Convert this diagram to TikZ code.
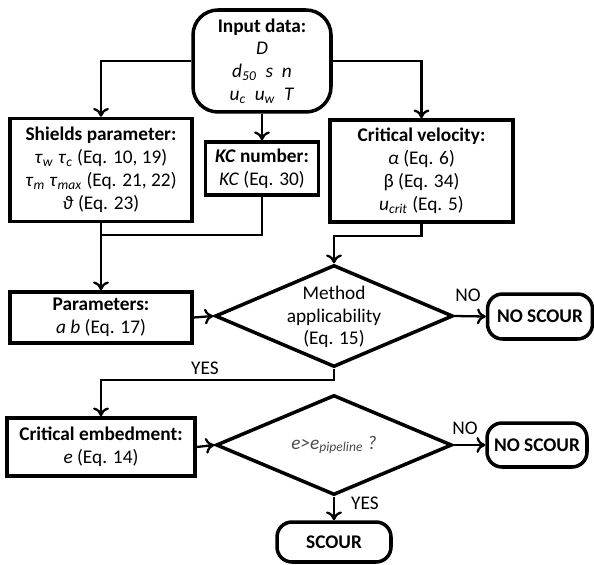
\documentclass[tikz,border=0pt]{standalone}
\usepackage{fontspec}
\setmainfont{Carlito}
\usepackage{tikz}
\usetikzlibrary{shapes.geometric, arrows.meta}

\newcommand{\figfont}{\fontsize{11}{13}\selectfont}
\newcommand{\vsub}[2]{\textit{#1}\textsubscript{\textit{#2}}}

\begin{document}
\begin{tikzpicture}[x=0.02cm, y=-0.02cm, font=\figfont,
    box/.style={draw, line width=2pt, align=center, inner sep=0pt},
    term/.style={draw, line width=2pt, rounded corners=0.3cm, align=center, inner sep=0pt},
    decision/.style={draw, diamond, line width=2pt, inner sep=0pt},
    conn/.style={line width=1.3pt, -{To[length=5pt, width=9pt]}},
    lbl/.style={inner sep=0pt}]
    \useasboundingbox (0, 0) rectangle (594, 564);

    \node [box, rounded corners=0.5cm, minimum width=2.76cm, minimum height=2.04cm] (input) at (262, 61)
        {\textbf{Input data:}\\ \textit{D}\\ \vsub{d}{50}\ \ \textit{s}\ \ \textit{n}\\ \vsub{u}{c}\ \ \vsub{u}{w}\ \ \textit{T}};
    \node [box, minimum width=3.64cm, minimum height=2.06cm] (shields) at (101, 170)
        {\textbf{Shields parameter:}\\ \vsub{τ}{w} \vsub{τ}{c} (Eq. 10, 19)\\ \vsub{τ}{m} \vsub{τ}{max} (Eq. 21, 22)\\ \textit{ϑ} (Eq. 23)};
    \node [box, minimum width=2.26cm, minimum height=1.06cm] (kc) at (262, 168.5)
        {\textbf{\textit{KC} number:}\\ \textit{KC} (Eq. 30)};
    \node [box, minimum width=3.66cm, minimum height=2.04cm] (crit) at (421.5, 171)
        {\textbf{Critical velocity:}\\ \textit{α} (Eq. 6)\\ β (Eq. 34)\\ \vsub{u}{crit} (Eq. 5)};
    \node [box, minimum width=3.64cm, minimum height=1.02cm] (param) at (101, 317.5)
        {\textbf{Parameters:}\\ \textit{a b} (Eq. 17)};
    \node [decision, minimum width=4.76cm, minimum height=2.04cm] (app) at (334, 316) {};
    \node [lbl, align=center] (apptxt) at (334, 317) {Method\\ applicability\\ (Eq. 15)};
    \node [term, minimum width=2.1cm, minimum height=0.9cm] (noscourA) at (540, 316.5) {\textbf{NO SCOUR}};
    \node [box, minimum width=3.76cm, minimum height=1.16cm] (embed) at (101, 447)
        {\textbf{Critical embedment:}\\ \textit{e} (Eq. 14)};
    \node [decision, minimum width=4.72cm, minimum height=2.0cm] (check) at (334, 445) {};
    \node [lbl, text=black!70] (checktxt) at (334, 445) {\textit{e>}\vsub{e}{pipeline}\textit{ ?}};
    \node [term, minimum width=2.0cm, minimum height=0.88cm] (noscourB) at (537, 445) {\textbf{NO SCOUR}};
    \node [term, minimum width=2.28cm, minimum height=0.8cm] (scour) at (334, 542) {\textbf{SCOUR}};

    \node [lbl] (noA) at (468, 295) {NO};
    \node [lbl] (yesA) at (205, 368) {YES};
    \node [lbl] (noB) at (465, 428) {NO};
    \node [lbl] (yesB) at (365, 503) {YES};

    \coordinate (jA) at (101, 235);
    \coordinate (jB) at (421.5, 236);
    \coordinate (jC) at (334, 380);

    \draw [conn] (input.west) -| (shields.north);
    \draw [conn] (input.south) -- (kc.north);
    \draw [conn] (input.east) -| (crit.north);
    \draw [conn] (shields.south) -- (param.north);
    \draw [line width=1.3pt] (kc.south) |- (jA);
    \draw [conn] (crit.south) -- (jB) -| (app.north);
    \draw [conn] (param.east) -- (app.west);
    \draw [conn] (app.east) -- (noscourA.west);
    \draw [conn] (app.south) -- (jC) -| (embed.north);
    \draw [conn] (embed.east) -- (check.west);
    \draw [conn] (check.east) -- (noscourB.west);
    \draw [conn] (check.south) -- (scour.north);
\end{tikzpicture}
\end{document}
